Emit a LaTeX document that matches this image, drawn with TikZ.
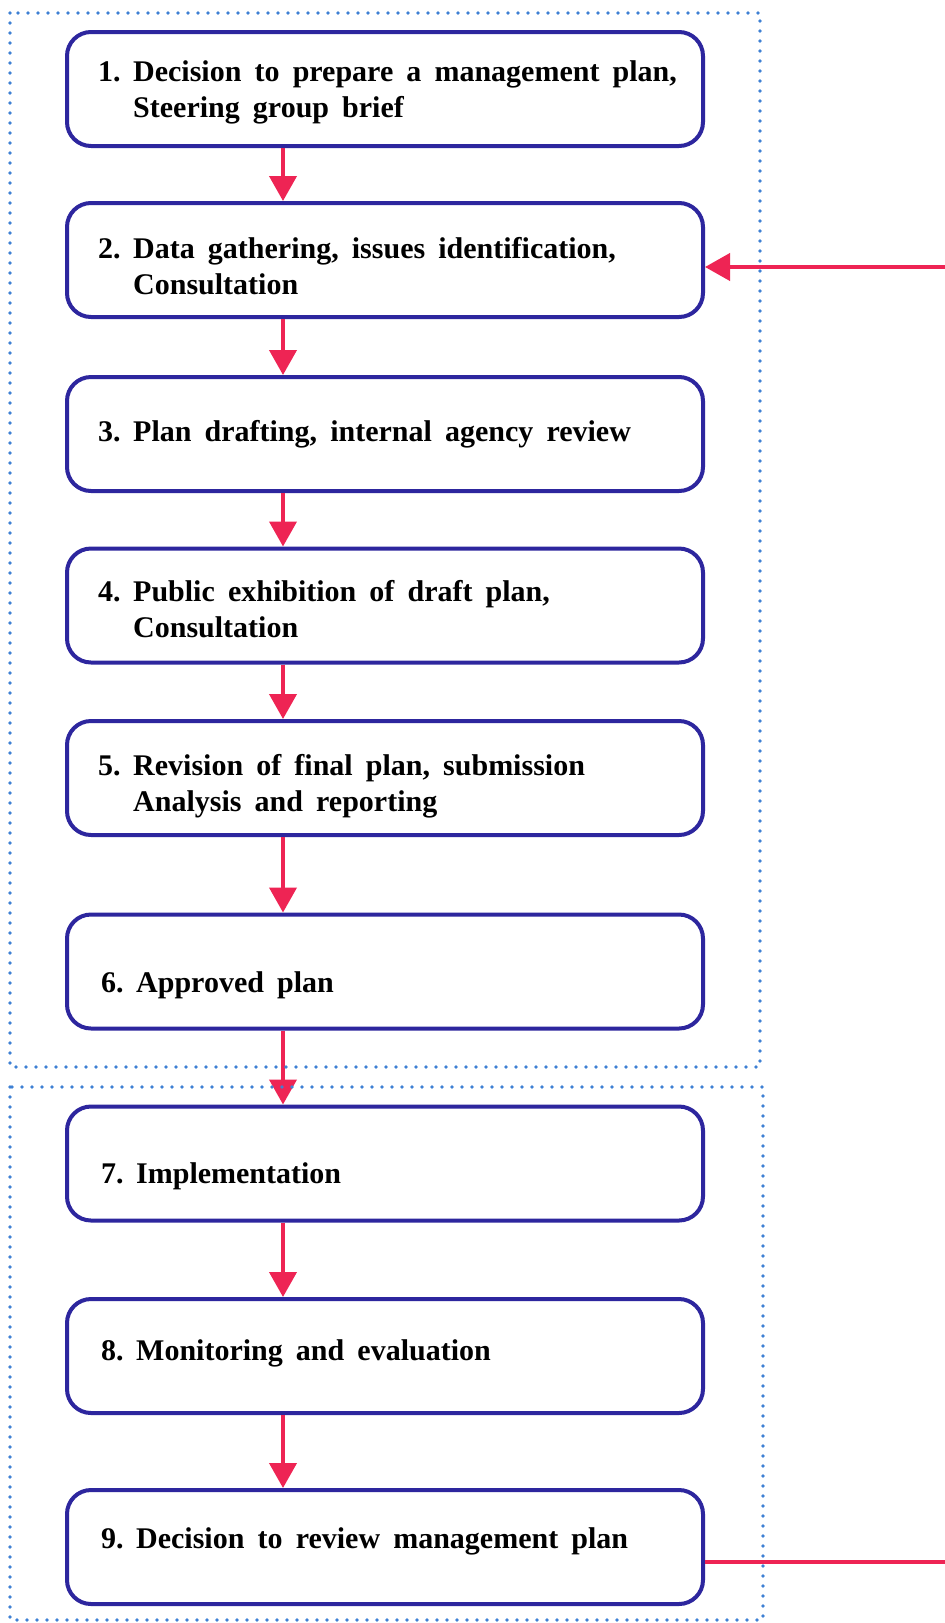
\documentclass[tikz,border=0pt]{standalone}
\usepackage{fontspec}
\setmainfont{Liberation Serif}[WordSpace=1.75]
\usetikzlibrary{arrows.meta}
\definecolor{boxblue}{RGB}{45,38,158}
\definecolor{flowred}{RGB}{238,36,84}
\definecolor{dotblue}{RGB}{62,128,212}
\begin{document}
\begin{tikzpicture}[x=1pt,y=-1pt,
  stagebox/.style={draw=boxblue, line width=4pt, rounded corners=24pt,
    minimum width=636pt, minimum height=114pt, inner sep=0pt},
  stagetext/.style={anchor=base west, inner sep=0pt, align=left,
    font=\fontsize{30}{36}\selectfont\bfseries},
  flow/.style={draw=flowred, line width=4pt,
    -{Triangle[width=27pt,length=25pt]}},
  feedline/.style={draw=flowred, line width=4pt},
  groupframe/.style={draw=dotblue, line width=3.8pt, line cap=round,
    dash pattern=on 0pt off 10pt}]
\useasboundingbox (0,0) rectangle (945,1623);
\fill[white] (0,0) rectangle (945,1623);

% stage boxes
\node[stagebox] (b1) at (385,89) {};
\node[stagebox] (b2) at (385,260) {};
\node[stagebox] (b3) at (385,434) {};
\node[stagebox] (b4) at (385,605.5) {};
\node[stagebox] (b5) at (385,778) {};
\node[stagebox] (b6) at (385,971.5) {};
\node[stagebox] (b7) at (385,1163.5) {};
\node[stagebox] (b8) at (385,1356) {};
\node[stagebox] (b9) at (385,1547) {};

% stage labels, number set in a hanging column; placed by first baseline
\newcommand{\stagelabel}[2]{\begin{tabular}[t]{@{}p{35pt}@{}l@{}}#1&#2\end{tabular}}
\node[stagetext] (t1) at (98,81) {\stagelabel{1.}{Decision to prepare a management plan,\\ & Steering group brief}};
\node[stagetext] (t2) at (98,258) {\stagelabel{2.}{Data gathering, issues identification,\\ & Consultation}};
\node[stagetext] (t3) at (98,441) {\stagelabel{3.}{Plan drafting, internal agency review}};
\node[stagetext] (t4) at (98,601.5) {\stagelabel{4.}{Public exhibition of draft plan,\\ & Consultation}};
\node[stagetext] (t5) at (98,775.5) {\stagelabel{5.}{Revision of final plan, submission\\ & Analysis and reporting}};
\node[stagetext] (t6) at (101,992) {\stagelabel{6.}{Approved plan}};
\node[stagetext] (t7) at (101,1183) {\stagelabel{7.}{Implementation}};
\node[stagetext] (t8) at (101,1360) {\stagelabel{8.}{Monitoring and evaluation}};
\node[stagetext] (t9) at (101,1548) {\stagelabel{9.}{Decision to review management plan}};

% sequence arrows
\foreach \a/\b in {b1/b2,b2/b3,b3/b4,b4/b5,b5/b6,b6/b7,b7/b8,b8/b9}
  \draw[flow] ([xshift=-102pt]\a.south) -- ([xshift=-102pt]\b.north);

% review loop back to data gathering
\coordinate (loopin) at (945,267);
\coordinate (loopout) at (945,1562);
\draw[feedline] ([yshift=-15pt]b9.east) -- (loopout);
\draw[flow] (loopin) -- ([yshift=-7pt]b2.east);

% planning and implementation groups
\draw[groupframe] (10,13) rectangle (760,1067);
\draw[groupframe] (10,1087) rectangle (763,1620);
\end{tikzpicture}
\end{document}
